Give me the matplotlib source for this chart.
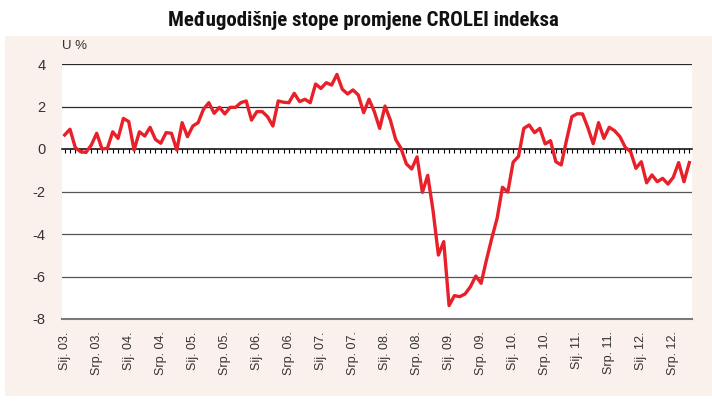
import matplotlib
matplotlib.use("Agg")
import matplotlib.pyplot as plt
from matplotlib.patches import Rectangle
import numpy as np

plt.rcParams["font.family"] = ["Liberation Sans", "DejaVu Sans"]

# Međugodišnje stope promjene CROLEI indeksa, mjesečno, sij. 2003. - lis. 2012.
values = [
    0.66, 0.93, 0.06, -0.13, -0.16, 0.19, 0.74, 0.00, 0.03, 0.81, 0.50, 1.44,
    1.29, -0.05, 0.81, 0.61, 1.02, 0.45, 0.27, 0.77, 0.74, -0.05, 1.24, 0.58,
    1.08, 1.24, 1.87, 2.18, 1.68, 1.96, 1.65, 1.96, 1.96, 2.18, 2.26, 1.36,
    1.76, 1.76, 1.52, 1.08, 2.26, 2.20, 2.18, 2.62, 2.23, 2.34, 2.18, 3.06,
    2.85, 3.12, 3.01, 3.51, 2.81, 2.59, 2.78, 2.54, 1.71, 2.34, 1.76, 0.97,
    2.02, 1.36, 0.45, 0.03, -0.70, -0.94, -0.37, -2.04, -1.24, -2.90, -4.99, -4.36,
    -7.37, -6.90, -6.95, -6.82, -6.48, -5.98, -6.32, -5.22, -4.20, -3.26, -1.80, -2.03,
    -0.62, -0.35, 0.97, 1.13, 0.77, 0.97, 0.24, 0.39, -0.60, -0.75, 0.42, 1.52,
    1.66, 1.65, 1.00, 0.25, 1.24, 0.50, 1.02, 0.86, 0.58, 0.08, -0.13, -0.91,
    -0.60, -1.59, -1.22, -1.54, -1.38, -1.65, -1.33, -0.64, -1.54, -0.64,
]
years = ["03", "04", "05", "06", "07", "08", "09", "10", "11", "12"]
half_names = ["Sij.", "Srp."]
tick_labels = [f"{m} {y}." for y in years for m in half_names]
y_ticks = [-8, -6, -4, -2, 0, 2, 4]

months = np.arange(len(values))
pink = "#FBF1EC"

fig = plt.figure(figsize=(7.12, 4.01), dpi=100)
fig.patch.set_facecolor("white")
bg = Rectangle((5 / 712, 5 / 401), 1 - 5 / 712, 360 / 401,
               transform=fig.transFigure, facecolor=pink,
               edgecolor="none", zorder=-10)
fig.patches.append(bg)

ax = fig.add_axes([62 / 712, 82 / 401, 630 / 712, 255 / 401])
ax.set_zorder(1)
ax.set_facecolor("white")
ax.plot(months, values, color="#E8202A", lw=2.4, zorder=4)

ax.set_xlim(-0.5, len(values) - 0.5)
ax.set_ylim(-8, 4)
ax.set_yticks(y_ticks)
ax.set_yticklabels([str(v) for v in y_ticks])
ax.tick_params(axis="y", length=0, pad=12, labelsize=10.5, labelcolor="#333333")
for v in y_ticks:
    if v in (2, 4):
        ax.axhline(v, color="#2a2a2a", lw=0.9, zorder=1)
    elif v not in (0, -8):
        ax.axhline(v, color="#555555", lw=0.9, zorder=1)

ax.set_xticks(months[::6])
ax.set_xticklabels(tick_labels[:len(months[::6])], rotation=90, va="top", ha="center")
ax.tick_params(axis="x", length=0, pad=9, labelsize=9, labelcolor="#333333")

for s in ["top", "left", "right"]:
    ax.spines[s].set_visible(False)
ax.spines["bottom"].set_color("#7a7a7a")
ax.spines["bottom"].set_linewidth(1.5)

# zero line with monthly tick marks pointing down
zero = ax.secondary_xaxis(8 / 12)
zero.set_alignment("bottom")
zero.set_xticks(months)
zero.set_xticklabels([])
zero.tick_params(axis="x", direction="out", length=3, width=0.8,
                 color="black", labelbottom=False, labeltop=False)
zero.spines["bottom"].set_color("black")
zero.spines["bottom"].set_linewidth(1.1)

fig.text(62 / 712, 1 - 46 / 401, "U %", fontsize=9.5, color="#333333",
         va="center", ha="left")
fig.text(0.51, 1 - 20 / 401, "Međugodišnje stope promjene CROLEI indeksa",
         fontsize=15, fontweight="bold", ha="center", va="center",
         family=["Roboto Condensed", "Liberation Sans Narrow", "Liberation Sans"],
         color="#111111")

fig.savefig("out.png", dpi=100, facecolor=fig.get_facecolor())
